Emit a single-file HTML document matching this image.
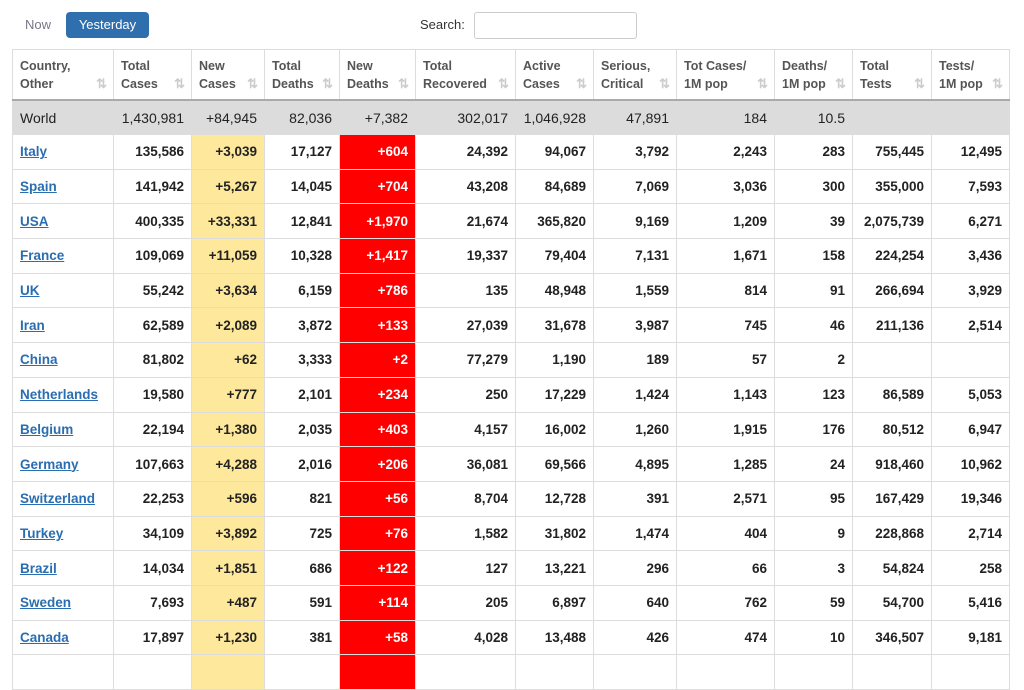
<!DOCTYPE html>
<html><head><meta charset="utf-8"><style>
body{margin:0;background:#fff;font-family:"Liberation Sans",Arial,sans-serif;width:1024px;height:657px;overflow:hidden;position:relative}
.now{position:absolute;left:25px;top:17px;font-size:13px;color:#778}
.yest{position:absolute;left:66px;top:12px;width:83px;height:26px;background:#2f6fad;border-radius:4px;color:#fff;font-size:13px;line-height:26px;text-align:center}
.slab{position:absolute;left:420px;top:17px;font-size:13px;color:#333}
.sin{position:absolute;left:474px;top:12px;width:161px;height:25px;border:1px solid #ccc;border-radius:3px}
table{position:absolute;left:12px;top:49px;border-collapse:collapse;table-layout:fixed;width:997px}
td,th{border:1px solid #ddd;padding:0 7px;text-align:right;white-space:nowrap;overflow:hidden}
th{height:42px;text-align:left;vertical-align:top;font-size:12.5px;font-weight:bold;color:#555;line-height:18px;padding-top:7px;position:relative;border-bottom:2px solid #aaa}
th:after{content:"⇅";position:absolute;right:6px;bottom:6px;color:#ccc;font-size:13px}
td{height:33.7px;font-size:13.5px;font-weight:bold;color:#222}
tr.w td{background:#dcdcdc;font-weight:normal;font-size:14px;height:33px}
td:first-child{text-align:left}
td a{color:#2a6db0;text-decoration:underline}
td.y{background:#fee89c}
td.r{background:#f00;color:#fff}
</style></head><body>
<div class="now">Now</div><div class="yest">Yesterday</div>
<div class="slab">Search:</div><div class="sin"></div>
<table>
<colgroup><col style="width:101px"><col style="width:78px"><col style="width:73px"><col style="width:75px"><col style="width:76px"><col style="width:100px"><col style="width:78px"><col style="width:83px"><col style="width:98px"><col style="width:78px"><col style="width:79px"><col style="width:78px"></colgroup>
<tr><th>Country,<br>Other</th><th>Total<br>Cases</th><th>New<br>Cases</th><th>Total<br>Deaths</th><th>New<br>Deaths</th><th>Total<br>Recovered</th><th>Active<br>Cases</th><th>Serious,<br>Critical</th><th>Tot Cases/<br>1M pop</th><th>Deaths/<br>1M pop</th><th>Total<br>Tests</th><th>Tests/<br>1M pop</th></tr>
<tr class="w"><td>World</td><td>1,430,981</td><td>+84,945</td><td>82,036</td><td>+7,382</td><td>302,017</td><td>1,046,928</td><td>47,891</td><td>184</td><td>10.5</td><td></td><td></td></tr>
<tr><td><a>Italy</a></td><td>135,586</td><td class="y">+3,039</td><td>17,127</td><td class="r">+604</td><td>24,392</td><td>94,067</td><td>3,792</td><td>2,243</td><td>283</td><td>755,445</td><td>12,495</td></tr>
<tr><td><a>Spain</a></td><td>141,942</td><td class="y">+5,267</td><td>14,045</td><td class="r">+704</td><td>43,208</td><td>84,689</td><td>7,069</td><td>3,036</td><td>300</td><td>355,000</td><td>7,593</td></tr>
<tr><td><a>USA</a></td><td>400,335</td><td class="y">+33,331</td><td>12,841</td><td class="r">+1,970</td><td>21,674</td><td>365,820</td><td>9,169</td><td>1,209</td><td>39</td><td>2,075,739</td><td>6,271</td></tr>
<tr><td><a>France</a></td><td>109,069</td><td class="y">+11,059</td><td>10,328</td><td class="r">+1,417</td><td>19,337</td><td>79,404</td><td>7,131</td><td>1,671</td><td>158</td><td>224,254</td><td>3,436</td></tr>
<tr><td><a>UK</a></td><td>55,242</td><td class="y">+3,634</td><td>6,159</td><td class="r">+786</td><td>135</td><td>48,948</td><td>1,559</td><td>814</td><td>91</td><td>266,694</td><td>3,929</td></tr>
<tr><td><a>Iran</a></td><td>62,589</td><td class="y">+2,089</td><td>3,872</td><td class="r">+133</td><td>27,039</td><td>31,678</td><td>3,987</td><td>745</td><td>46</td><td>211,136</td><td>2,514</td></tr>
<tr><td><a>China</a></td><td>81,802</td><td class="y">+62</td><td>3,333</td><td class="r">+2</td><td>77,279</td><td>1,190</td><td>189</td><td>57</td><td>2</td><td></td><td></td></tr>
<tr><td><a>Netherlands</a></td><td>19,580</td><td class="y">+777</td><td>2,101</td><td class="r">+234</td><td>250</td><td>17,229</td><td>1,424</td><td>1,143</td><td>123</td><td>86,589</td><td>5,053</td></tr>
<tr><td><a>Belgium</a></td><td>22,194</td><td class="y">+1,380</td><td>2,035</td><td class="r">+403</td><td>4,157</td><td>16,002</td><td>1,260</td><td>1,915</td><td>176</td><td>80,512</td><td>6,947</td></tr>
<tr><td><a>Germany</a></td><td>107,663</td><td class="y">+4,288</td><td>2,016</td><td class="r">+206</td><td>36,081</td><td>69,566</td><td>4,895</td><td>1,285</td><td>24</td><td>918,460</td><td>10,962</td></tr>
<tr><td><a>Switzerland</a></td><td>22,253</td><td class="y">+596</td><td>821</td><td class="r">+56</td><td>8,704</td><td>12,728</td><td>391</td><td>2,571</td><td>95</td><td>167,429</td><td>19,346</td></tr>
<tr><td><a>Turkey</a></td><td>34,109</td><td class="y">+3,892</td><td>725</td><td class="r">+76</td><td>1,582</td><td>31,802</td><td>1,474</td><td>404</td><td>9</td><td>228,868</td><td>2,714</td></tr>
<tr><td><a>Brazil</a></td><td>14,034</td><td class="y">+1,851</td><td>686</td><td class="r">+122</td><td>127</td><td>13,221</td><td>296</td><td>66</td><td>3</td><td>54,824</td><td>258</td></tr>
<tr><td><a>Sweden</a></td><td>7,693</td><td class="y">+487</td><td>591</td><td class="r">+114</td><td>205</td><td>6,897</td><td>640</td><td>762</td><td>59</td><td>54,700</td><td>5,416</td></tr>
<tr><td><a>Canada</a></td><td>17,897</td><td class="y">+1,230</td><td>381</td><td class="r">+58</td><td>4,028</td><td>13,488</td><td>426</td><td>474</td><td>10</td><td>346,507</td><td>9,181</td></tr>
<tr><td></td><td></td><td class="y"></td><td></td><td class="r"></td><td></td><td></td><td></td><td></td><td></td><td></td><td></td></tr>
</table>
</body></html>
